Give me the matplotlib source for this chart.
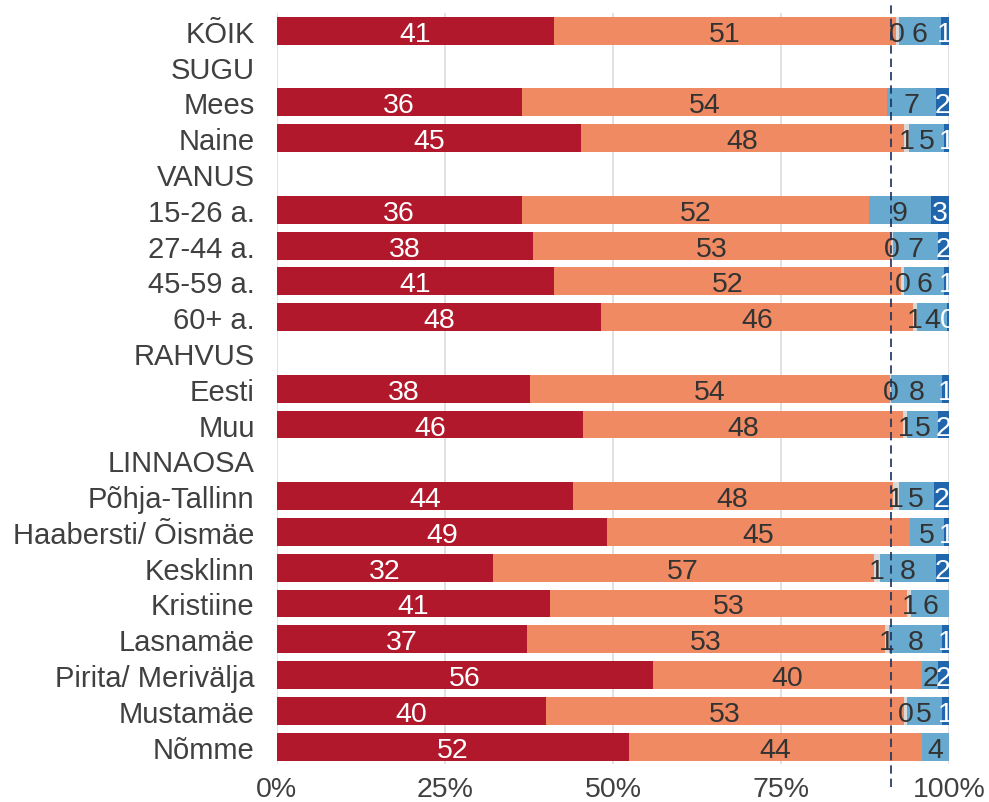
import matplotlib
matplotlib.use("Agg")
import matplotlib.pyplot as plt
import numpy as np

plt.rcParams['font.family'] = ['Liberation Sans', 'DejaVu Sans']

categories = ["KÕIK", "SUGU", "Mees", "Naine", "VANUS", "15-26 a.", "27-44 a.",
              "45-59 a.", "60+ a.", "RAHVUS", "Eesti", "Muu", "LINNAOSA",
              "Põhja-Tallinn", "Haabersti/ Õismäe", "Kesklinn", "Kristiine",
              "Lasnamäe", "Pirita/ Merivälja", "Mustamäe", "Nõmme"]

# header rows have no bar (NaN)
nan = np.nan
s_darkred = [41.2, nan, 36.4, 45.2, nan, 36.4, 38.1, 41.2, 48.2, nan, 37.6, 45.6, nan,
             44.0, 49.1, 32.1, 40.6, 37.2, 56.0, 40.0, 52.4]
s_salmon = [50.9, nan, 54.4, 48.1, nan, 51.7, 53.3, 51.7, 46.4, nan, 53.6, 47.6, nan,
            47.6, 45.1, 56.7, 53.2, 53.3, 40.0, 53.3, 43.6]
s_grey = [0.4, nan, 0.0, 0.7, nan, 0.0, 0.2, 0.4, 0.7, nan, 0.2, 0.6, nan,
          0.9, 0.0, 0.9, 0.6, 0.6, 0.0, 0.4, 0.0]
s_lightblue = [6.3, nan, 7.2, 5.3, nan, 9.2, 6.8, 6.0, 4.4, nan, 7.6, 4.6, nan,
               5.2, 5.1, 8.4, 5.6, 7.8, 2.4, 5.2, 4.0]
s_darkblue = [1.2, nan, 2.0, 0.7, nan, 2.7, 1.6, 0.7, 0.3, nan, 1.0, 1.6, nan,
              2.3, 0.7, 1.9, 0.0, 1.1, 1.6, 1.1, 0.0]

reference_line = 91.4
x_ticks = [0, 25, 50, 75, 100]
x_tick_labels = ["0%", "25%", "50%", "75%", "100%"]

series = [s_darkred, s_salmon, s_grey, s_lightblue, s_darkblue]
colors = ["#b2182b", "#ef8a62", "#d9d9d9", "#67a9cf", "#2166ac"]
text_colors = ["white", "#333333", "#333333", "#333333", "white"]

fig = plt.figure(figsize=(9.89, 8.03), dpi=100)
ax = fig.add_axes([0.280, 0.0467, 0.6796, 0.9359])

n = len(categories)
y = np.arange(n)
left = np.zeros(n)
FS = 20.5
for vals, col, tcol in zip(series, colors, text_colors):
    v = np.array(vals, dtype=float)
    vv = np.nan_to_num(v)
    ax.barh(y, vv, left=left, height=0.78, color=col, edgecolor='none', zorder=2)
    for i in range(n):
        if not np.isnan(v[i]) and v[i] > 0:
            ax.text(left[i] + v[i] / 2, y[i], f"{round(v[i])}", ha='center', va='center_baseline',
                    color=tcol, fontsize=FS, zorder=4)
    left = left + vv

ax.axvline(reference_line, ymin=-0.03, ymax=1.015, color="#1b2f5e", lw=1.2,
           dashes=(5, 3), clip_on=False, zorder=5)

ax.set_xlim(0, 100)
ax.set_ylim(n - 0.5, -0.5)
ax.set_yticks(y)
ax.set_yticklabels(categories, fontsize=21, color="#404040")
ax.set_xticks(x_ticks)
ax.set_xticklabels(x_tick_labels, fontsize=FS, color="#404040")
ax.tick_params(axis='y', length=0, pad=16)
ax.tick_params(axis='x', length=0, pad=8)
ax.grid(axis='x', color="#dedede", lw=1.3, zorder=0)
ax.set_axisbelow(True)
for sp in ax.spines.values():
    sp.set_visible(False)

fig.savefig("out.png", dpi=100)
